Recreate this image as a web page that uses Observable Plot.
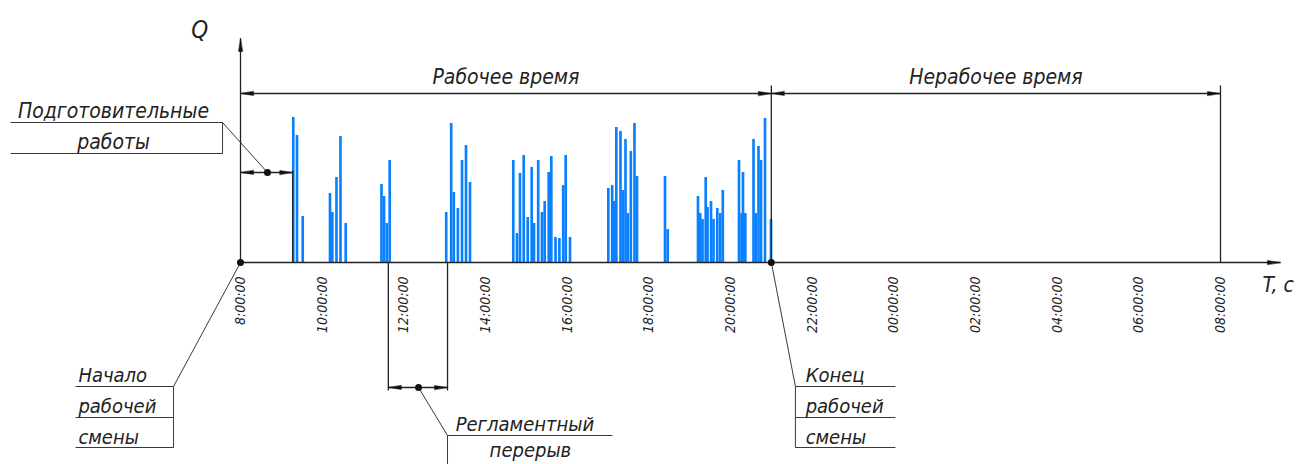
<!DOCTYPE html>
<html><head><meta charset="utf-8">
<script src="https://cdn.jsdelivr.net/npm/d3@7"></script>
<script src="https://cdn.jsdelivr.net/npm/@observablehq/plot@0.6"></script>
<style>
body{margin:0;background:#fff;}
</style></head><body><div id="chart"></div>
<script>
// bar start times (hours from midnight) and Q values
const barHours = [
  9.305, 9.396, 9.536,
  10.204, 10.260, 10.363, 10.461, 10.589,
  11.465, 11.527, 11.595, 11.666,
  13.05, 13.172, 13.236, 13.336, 13.437, 13.535, 13.633,
  14.693, 14.784, 14.857, 14.948, 15.046, 15.144, 15.200, 15.303, 15.396, 15.462, 15.560, 15.624, 15.727, 15.822, 15.915, 15.976, 16.082,
  17.020, 17.115, 17.167, 17.216, 17.318, 17.375, 17.441, 17.497, 17.571, 17.661, 17.722, 18.408, 18.474,
  19.216, 19.270, 19.327, 19.405, 19.449, 19.535, 19.596, 19.689, 19.760, 19.824,
  20.220, 20.282, 20.318, 20.375, 20.576, 20.629, 20.698, 20.759, 20.857, 21.004
];
const barQ = [
  145, 127, 46,
  69, 50, 85, 126, 39,
  78, 66, 39, 102,
  50, 139, 70, 54, 102, 117, 80,
  102, 29, 89, 107, 45, 95, 39, 102, 50, 61, 90, 106, 25, 24, 77, 107, 25,
  74, 77, 61, 135, 131, 72, 123, 49, 111, 139, 86, 86, 33,
  66, 49, 43, 85, 55, 61, 43, 54, 49, 72,
  102, 49, 90, 49, 123, 49, 116, 102, 144, 43
];
const tickHours = [8, 10, 12, 14, 16, 18, 20, 22, 24, 26, 28, 30, 32];
const tickLabels = ["8:00:00","10:00:00","12:00:00","14:00:00","16:00:00","18:00:00","20:00:00","22:00:00","00:00:00","02:00:00","04:00:00","06:00:00","08:00:00"];

// key moments (hours)
const shiftStart = 8, shiftEnd = 21, nextShift = 32, prepEnd = 9.28, breakStart = 11.62, breakEnd = 13.07;

// annotation geometry in data units (hours, Q)
const segments = [
  [8, 0, 8, 224], [8, 0, 33.47, 0],
  [shiftStart, 169, shiftEnd, 169], [shiftEnd, 169, nextShift, 169],
  [shiftEnd, 0, shiftEnd, 177], [nextShift, 0, nextShift, 177],
  [shiftStart, 90, prepEnd, 90], [prepEnd, 0, prepEnd, 92],
  [breakStart, 0, breakStart, -128], [breakEnd, 0, breakEnd, -128], [breakStart, -125, breakEnd, -125]
];
const thinSegments = [
  [2.37, 140, 7.56, 140], [2.37, 109, 7.56, 109], [7.56, 140, 7.56, 109], [7.56, 140, 8.66, 90],
  [3.96, -124, 6.36, -124], [3.96, -155, 6.36, -155], [3.96, -185, 6.36, -185], [6.36, -124, 6.36, -185], [6.36, -124, 8, 0],
  [21.59, -124, 24.04, -124], [21.59, -155, 24.04, -155], [21.59, -185, 24.04, -185], [21.59, -124, 21.59, -185], [21.59, -124, 21, 0],
  [12.36, -125, 13.07, -173], [13.07, -173, 17.11, -173], [13.07, -173, 13.07, -215]
];
const arrows = [
  [shiftStart, 169, -90], [shiftEnd, 169, 90], [shiftEnd, 169, -90], [nextShift, 169, 90],
  [shiftStart, 90, -90], [prepEnd, 90, 90],
  [breakStart, -125, -90], [breakEnd, -125, 90],
  [8, 224, 0], [33.47, 0, 90]
];
const dots = [[8, 0], [21, 0], [8.66, 90], [12.36, -125]];
const centeredLabels = [
  {x: 7.0, y: 232, t: "Q", s: 24},
  {x: 14.5, y: 185, t: "Рабочее время", s: 21},
  {x: 26.5, y: 185, t: "Нерабочее время", s: 21},
  {x: 4.89, y: 151, t: "Подготовительные", s: 21},
  {x: 4.89, y: 120, t: "работы", s: 21},
  {x: 15.1, y: -188, t: "перерыв", s: 20}
];
const startLabels = [
  {x: 33.03, y: -23, t: "T, c", s: 21},
  {x: 4.03, y: -113, t: "Начало", s: 20},
  {x: 4.03, y: -144, t: "рабочей", s: 20},
  {x: 4.03, y: -175, t: "смены", s: 20},
  {x: 21.84, y: -113, t: "Конец", s: 20},
  {x: 21.84, y: -144, t: "рабочей", s: 20},
  {x: 21.84, y: -175, t: "смены", s: 20},
  {x: 13.27, y: -162, t: "Регламентный", s: 20}
];

const FONT = '"Liberation Sans Narrow","DejaVu Sans Condensed","Roboto Condensed",sans-serif';
const INK = "#222";
const halfW = 0.0325;
const bars = barHours.map((h, i) => ({h, q: barQ[i]}));
const tickData = tickHours.map((h, i) => ({h, label: tickLabels[i]}));
const wedge = {draw(ctx, l, r) { ctx.moveTo(0, 0); ctx.lineTo(-r, l); ctx.lineTo(r, l); ctx.closePath(); }};
const textOpts = {x: "x", y: "y", text: "t", fontSize: "s", fontFamily: FONT, fontStyle: "italic", fill: INK};

const chart = Plot.plot({
  width: 1299, height: 464,
  x: {domain: [8, 32], range: [240, 1220], axis: null},
  y: {domain: [0, 224], range: [262, 38], axis: null},
  marks: [
    Plot.rectY(bars, {x1: d => d.h - halfW, x2: d => d.h + halfW, y1: 0, y2: "q", fill: "#0a80ff"}),
    Plot.link(segments, {x1: d => d[0], y1: d => d[1], x2: d => d[2], y2: d => d[3], stroke: INK, strokeWidth: 1.3}),
    Plot.link(thinSegments, {x1: d => d[0], y1: d => d[1], x2: d => d[2], y2: d => d[3], stroke: INK, strokeWidth: 0.9}),
    Plot.vector(arrows, {x: d => d[0], y: d => d[1], rotate: d => d[2], length: 13, r: 2, shape: wedge, anchor: "start", fill: "#111", stroke: "#111", strokeWidth: 0.5}),
    Plot.dot(dots, {x: d => d[0], y: d => d[1], r: 3.5, fill: "#111", stroke: "none"}),
    Plot.text(tickData, {x: "h", y: -14, text: "label", rotate: -90, textAnchor: "end", fontSize: 14, fontFamily: FONT, fontStyle: "italic", fill: INK}),
    Plot.text(centeredLabels, {...textOpts, textAnchor: "middle"}),
    Plot.text(startLabels, {...textOpts, textAnchor: "start"})
  ]
});
document.getElementById("chart").appendChild(chart);
</script>
</body></html>
